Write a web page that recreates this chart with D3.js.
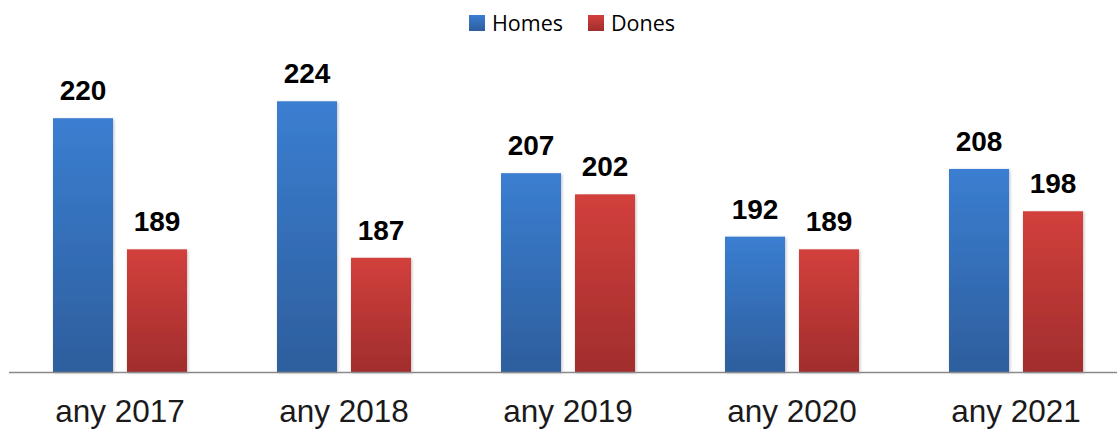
<!DOCTYPE html>
<html>
<head>
<meta charset="utf-8">
<script src="https://cdn.jsdelivr.net/npm/d3@7"></script>
<style>
  body { margin: 0; background: #fff; }
  svg { display: block; }
</style>
</head>
<body>
<div id="chart"></div>
<script>
// data
var years = ["any 2017", "any 2018", "any 2019", "any 2020", "any 2021"];
var seriesNames = ["Homes", "Dones"];
var homes = [220, 224, 207, 192, 208];
var dones = [189, 187, 202, 189, 198];

var svgWidth = 1117, svgHeight = 430;
var baseY = 372;

var svg = d3.select("#chart").append("svg")
    .attr("width", svgWidth)
    .attr("height", svgHeight);

// gradients
var defs = svg.append("defs");
var grads = [
    { id: "gHomes", top: "#3b7ed1", bottom: "#2d5e9d" },
    { id: "gDones", top: "#d2403c", bottom: "#a12d2d" }
];
grads.forEach(function (g) {
    var lg = defs.append("linearGradient")
        .attr("id", g.id)
        .attr("x1", 0).attr("y1", 0).attr("x2", 0).attr("y2", 1);
    lg.append("stop").attr("offset", "0%").attr("stop-color", g.top);
    lg.append("stop").attr("offset", "100%").attr("stop-color", g.bottom);
});
var shadow = defs.append("filter").attr("id", "shadow")
    .attr("x", "-20%").attr("y", "-10%").attr("width", "140%").attr("height", "120%");
shadow.append("feDropShadow")
    .attr("dx", 1).attr("dy", 1).attr("stdDeviation", 1.5)
    .attr("flood-color", "#000").attr("flood-opacity", 0.25);

// scales
var x0 = d3.scaleBand()
    .domain(years)
    .range([8, 1128])
    .padding(0);

var x1 = d3.scaleBand()
    .domain(seriesNames)
    .range([-67, 67])
    .paddingInner(0.189);

var y = d3.scaleLinear()
    .domain([160, 240])
    .range([baseY, 33.6]);

var table = years.map(function (yr, i) {
    return { year: yr, values: [
        { key: "Homes", value: homes[i], fill: "url(#gHomes)" },
        { key: "Dones", value: dones[i], fill: "url(#gDones)" }
    ] };
});

// bars
var groups = svg.selectAll(".grp")
    .data(table)
    .enter().append("g")
    .attr("class", "grp")
    .attr("transform", d => `translate(${x0(d.year) + x0.bandwidth() / 2},0)`);

groups.selectAll("rect")
    .data(d => d.values)
    .enter().append("rect")
    .attr("x", d => x1(d.key))
    .attr("y", d => y(d.value))
    .attr("width", x1.bandwidth())
    .attr("height", d => baseY - y(d.value))
    .attr("fill", d => d.fill)
    .attr("filter", "url(#shadow)");

// value labels
groups.selectAll(".val")
    .data(d => d.values)
    .enter().append("text")
    .attr("class", "val")
    .attr("x", d => x1(d.key) + x1.bandwidth() / 2)
    .attr("y", d => y(d.value) - 18)
    .attr("text-anchor", "middle")
    .style("font-family", "'Liberation Sans', Arial, sans-serif")
    .style("font-weight", "bold")
    .style("font-size", "28px")
    .attr("fill", "#000")
    .text(d => d.value);

// x axis line
svg.append("line")
    .attr("x1", 9).attr("x2", svgWidth)
    .attr("y1", baseY + 0.5).attr("y2", baseY + 0.5)
    .attr("stroke", "#8a8a8a")
    .attr("stroke-width", 1.6);

// category labels
svg.selectAll(".cat")
    .data(years)
    .enter().append("text")
    .attr("class", "cat")
    .attr("x", d => x0(d) + x0.bandwidth() / 2)
    .attr("y", 422)
    .attr("text-anchor", "middle")
    .style("font-family", "'Liberation Sans', Arial, sans-serif")
    .style("font-size", "31.5px")
    .attr("fill", "#1a1a1a")
    .text(d => d);

// legend
var legendItems = [
    { name: "Homes", fill: "url(#gHomes)", x: 469 },
    { name: "Dones", fill: "url(#gDones)", x: 588 }
];
var legend = svg.selectAll(".leg")
    .data(legendItems)
    .enter().append("g")
    .attr("class", "leg")
    .attr("transform", d => `translate(${d.x},15)`);
legend.append("rect")
    .attr("width", 16).attr("height", 16)
    .attr("fill", d => d.fill);
legend.append("text")
    .attr("x", 23)
    .attr("y", 15.5)
    .style("font-family", "'Open Sans', 'Noto Sans', sans-serif")
    .style("font-size", "21.5px")
    .attr("fill", "#000")
    .text(d => d.name);
</script>
</body>
</html>
